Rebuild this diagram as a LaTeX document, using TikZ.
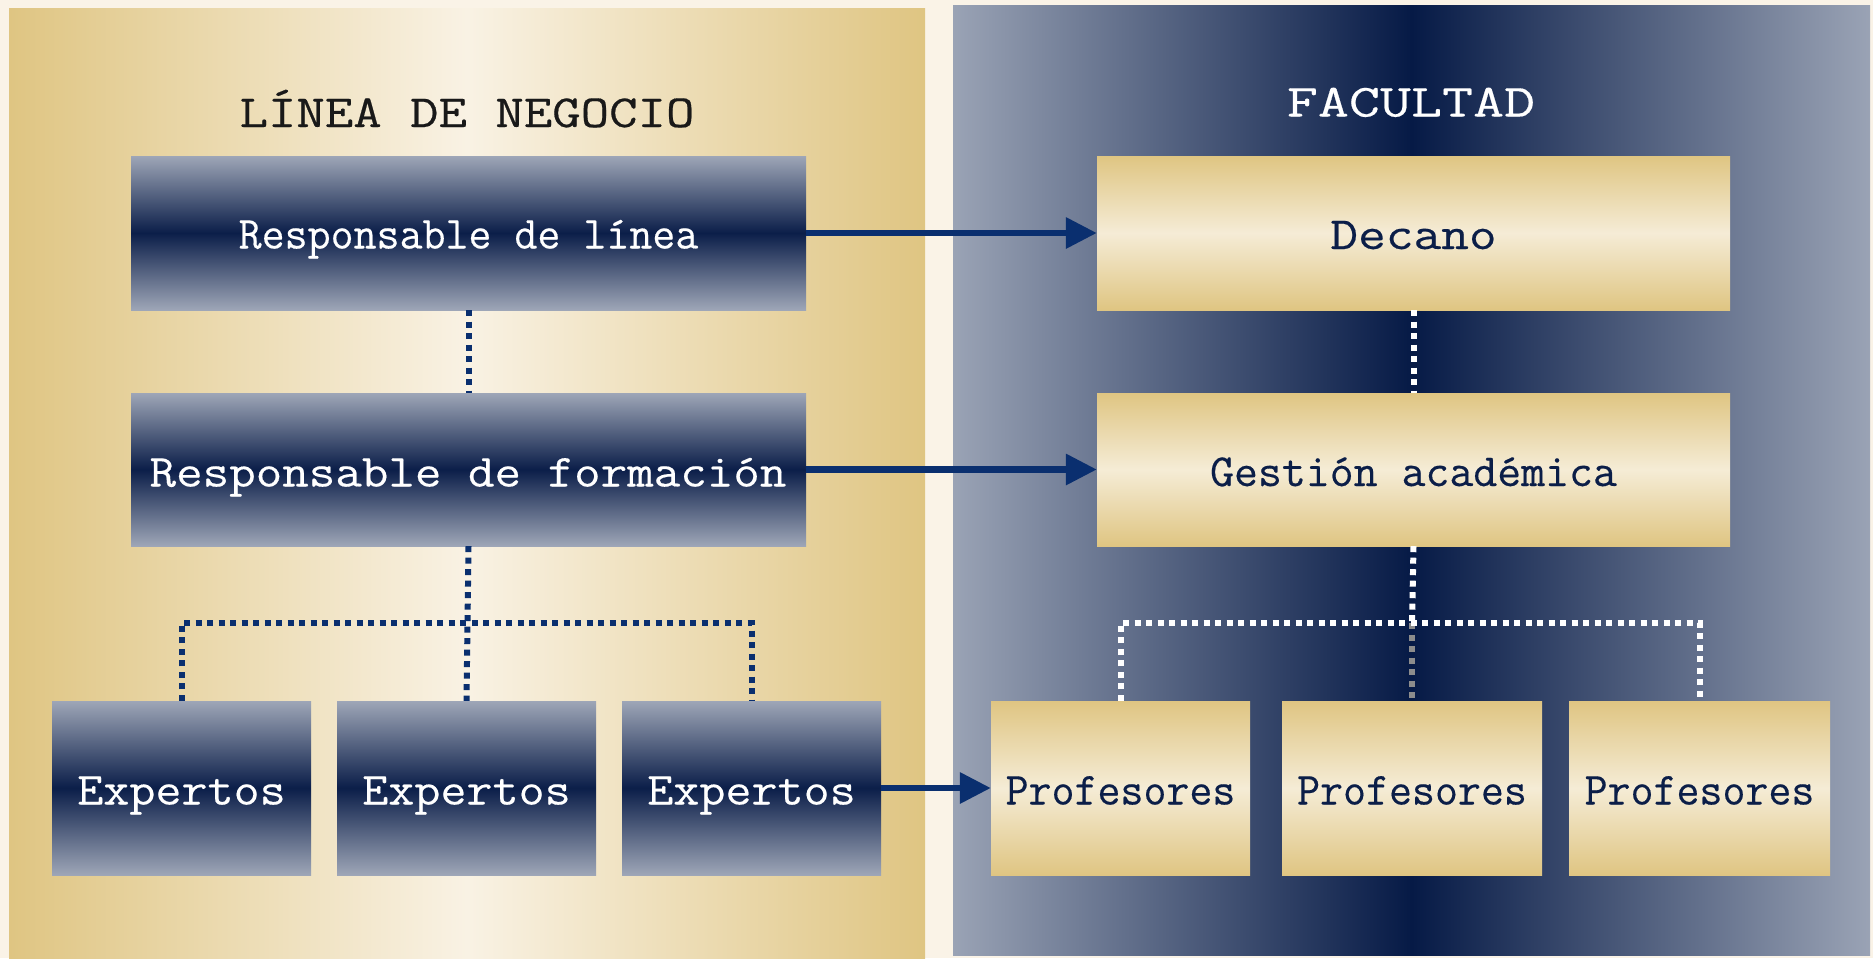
\documentclass[tikz,border=0pt]{standalone}
\usepackage{fontspec}
\usepackage{graphicx}
\usetikzlibrary{arrows.meta}
\newfontfamily\twfont{Latin Modern Mono}[RawFeature={embolden=0.35}]
\definecolor{bgcream}{HTML}{FAF3E7}
\definecolor{gold}{HTML}{DFC582}
\definecolor{lightcream}{HTML}{F9F2E4}
\definecolor{boxcream}{HTML}{F5ECD6}
\definecolor{panelblue}{HTML}{9AA3B5}
\definecolor{darknavy}{HTML}{061A46}
\definecolor{boxblue}{HTML}{9EA6B7}
\definecolor{boxnavy}{HTML}{0B1E49}
\definecolor{linenavy}{HTML}{0A2F6F}
\definecolor{textnavy}{HTML}{0B1E48}
\definecolor{midgray}{HTML}{8C8C8C}
\tikzset{
  txt/.style={font=\twfont\fontsize{46}{46}\selectfont, text height=28pt, text depth=0pt, inner sep=0pt},
  bluebox/.style={txt, rectangle, top color=boxblue, bottom color=boxblue, middle color=boxnavy, text=white},
  goldbox/.style={txt, rectangle, top color=gold, bottom color=gold, middle color=boxcream, text=textnavy},
  wide/.style={minimum width=675pt, minimum height=154pt},
  wideR/.style={minimum width=633pt, minimum height=154pt},
  small/.style={minimum width=259pt, minimum height=174pt},
  lbl/.style={txt, inner sep=0pt, fill=none},
  ldot/.style={line width=6pt, linenavy, dash pattern=on 6pt off 5.5pt},
  rdot/.style={line width=6pt, white, dash pattern=on 6pt off 5.5pt},
  gdot/.style={line width=6pt, midgray, dash pattern=on 6pt off 5.5pt},
  arr/.style={line width=6.5pt, linenavy, -{Triangle[length=31pt,width=30pt]}},
}
\begin{document}
\begin{tikzpicture}[x=1pt,y=-1pt]
\fill[bgcream] (0,0) rectangle (1873,958);
\useasboundingbox (0,0) rectangle (1873,958);
% panels
\shade[left color=gold, right color=gold, middle color=lightcream] (9,9) rectangle (925,958);
\shade[left color=panelblue, right color=panelblue, middle color=darknavy] (953,6) rectangle (1870,955);
% headings
\node[txt, text=black!90] (h1) at (467,113) {\scalebox{1.2}[1]{LÍNEA DE NEGOCIO}};
\node[txt, text=white] (h2) at (1411,102.5) {\scalebox{1.31}[1]{FACULTAD}};
% left boxes
\node[bluebox, wide] (rl) at (468.5,233) {};
\node[bluebox, wide, minimum height=153pt] (rf) at (468.5,469.5) {};
\node[bluebox, small] (e1) at (181.5,788) {};
\node[bluebox, small] (e2) at (466.5,788) {};
\node[bluebox, small] (e3) at (751.5,788) {};
% right boxes
\node[goldbox, wideR] (dc) at (1413.5,233) {};
\node[goldbox, wideR, minimum height=153pt] (ga) at (1413.5,469.5) {};
\node[goldbox, small] (p1) at (1120.5,788) {};
\node[goldbox, small, minimum width=260pt] (p2) at (1412,788) {};
\node[goldbox, small, minimum width=261pt] (p3) at (1699.5,788) {};
% box labels
\node[lbl, text=white, yshift=-1.5pt] (trl) at (rl) {\scalebox{0.97}[1]{Responsable de línea}};
\node[lbl, text=white, yshift=-3pt] (trf) at (468,469.5) {\scalebox{1.12}[1]{Responsable de formación}};
\node[lbl, text=white, yshift=-2.5pt] (te1) at (e1) {\scalebox{1.1}[1]{Expertos}};
\node[lbl, text=white, yshift=-2.5pt] (te2) at (e2) {\scalebox{1.1}[1]{Expertos}};
\node[lbl, text=white, yshift=-2.5pt] (te3) at (e3) {\scalebox{1.1}[1]{Expertos}};
\node[lbl, text=textnavy, yshift=-2pt] (tdc) at (dc) {\scalebox{1.17}[1]{Decano}};
\node[lbl, text=textnavy, yshift=-2.5pt] (tga) at (ga) {\scalebox{1.01}[1]{Gestión académica}};
\node[lbl, text=textnavy, yshift=-2.5pt] (tp1) at (p1) {\scalebox{0.97}[1]{Profesores}};
\node[lbl, text=textnavy, yshift=-2.5pt] (tp2) at (p2) {\scalebox{0.97}[1]{Profesores}};
\node[lbl, text=textnavy, yshift=-2.5pt] (tp3) at (p3) {\scalebox{0.97}[1]{Profesores}};
% junctions
\coordinate (lj) at (466.5,623);
\coordinate (rj) at (1412,623);
% left tree
\draw[ldot] (rl.south) -- (rf.north);
\draw[ldot] (rf.south) -- (e2.north);
\draw[ldot] (e1.north) |- (lj) -| (e3.north);
% right tree
\draw[rdot] (dc.south) -- (ga.north);
\draw[rdot] (ga.south) -- (rj);
\draw[gdot] (rj) -- (p2.north);
\draw[rdot] (p1.north) |- (rj) -| (p3.north);
% arrows
\draw[arr] (rl.east) -- (dc.west);
\draw[arr] (rf.east) -- (ga.west);
\draw[arr] (e3.east) -- (p1.west);
\end{tikzpicture}
\end{document}
